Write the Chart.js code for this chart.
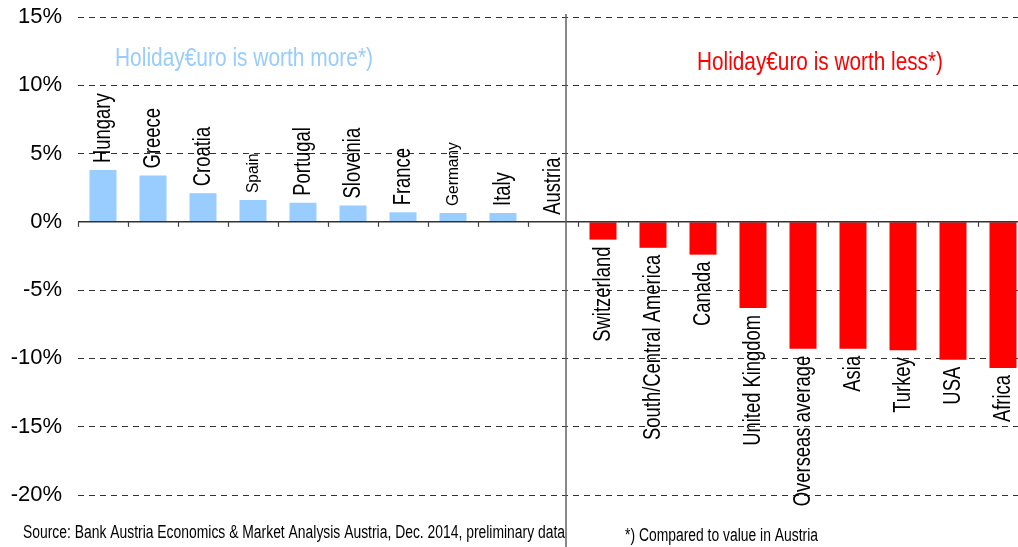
<!DOCTYPE html>
<html>
<head>
<meta charset="utf-8">
<script src="https://cdn.jsdelivr.net/npm/chart.js@4.4.1/dist/chart.umd.min.js"></script>
<style>
  html, body { margin: 0; padding: 0; background: #fff; overflow: hidden; }
  #wrap { width: 1028px; height: 547px; }
</style>
</head>
<body>
<div id="wrap"><canvas id="chart" width="1028" height="547"></canvas></div>
<script>
// data (% change of the Holiday Euro vs Austria)
const countries = ["Hungary", "Greece", "Croatia", "Spain", "Portugal", "Slovenia", "France", "Germany", "Italy", "Austria",
  "Switzerland", "South/Central America", "Canada", "United Kingdom", "Overseas average", "Asia", "Turkey", "USA", "Africa"];
const changes = [3.8, 3.4, 2.1, 1.6, 1.4, 1.2, 0.7, 0.65, 0.65, 0,
  -1.3, -1.9, -2.4, -6.3, -9.3, -9.3, -9.4, -10.1, -10.7];
const yMin = -20;
const yMax = 15;
const yStep = 5;
const smallLabels = ["Spain", "Germany"];

const titleMore = "Holiday€uro is worth more*)";
const titleLess = "Holiday€uro is worth less*)";
const sourceNote = "Source: Bank Austria Economics & Market Analysis Austria, Dec. 2014, preliminary data";
const starNote = "*) Compared to value in Austria";

const FONT = '"Liberation Sans", Arial, sans-serif';
const BLUE = "#99CCFF";
const RED = "#FF0000";

// draws text squeezed to a given width (the original uses a condensed look)
function squeezeText(ctx, text, x, y, size, color, width) {
  ctx.save();
  ctx.font = size + "px " + FONT;
  ctx.fillStyle = color;
  ctx.textBaseline = "alphabetic";
  ctx.textAlign = "left";
  const w = ctx.measureText(text).width;
  ctx.translate(x, y);
  ctx.scale(width / w, 1);
  ctx.fillText(text, 0, 0);
  ctx.restore();
}

const extras = {
  id: "extras",
  afterDatasetsDraw(chart) {
    const ctx = chart.ctx;
    const xs = chart.scales.x;
    const ys = chart.scales.y;
    const area = chart.chartArea;
    const zero = ys.getPixelForValue(0);
    const half = (xs.getPixelForValue(1) - xs.getPixelForValue(0)) / 2;

    // zero line with tick marks at category borders
    ctx.save();
    ctx.strokeStyle = "#333";
    ctx.lineWidth = 1.5;
    ctx.beginPath();
    ctx.moveTo(area.left, zero);
    ctx.lineTo(area.right, zero);
    ctx.stroke();
    ctx.lineWidth = 1.2;
    ctx.strokeStyle = "#444";
    for (let i = 0; i <= countries.length; i++) {
      const tx = Math.round(xs.getPixelForValue(i) - half) + 0.5;
      ctx.beginPath();
      ctx.moveTo(tx, zero);
      ctx.lineTo(tx, zero + 5);
      ctx.stroke();
    }

    // separator between the two groups
    const sepX = xs.getPixelForValue(9) + 0.26 * half * 2;
    ctx.strokeStyle = "#606060";
    ctx.lineWidth = 1.5;
    ctx.beginPath();
    ctx.moveTo(sepX, area.top - 3);
    ctx.lineTo(sepX, chart.height);
    ctx.stroke();
    ctx.restore();

    // rotated country labels next to the bars
    const meta = chart.getDatasetMeta(0);
    meta.data.forEach((bar, i) => {
      const small = smallLabels.includes(countries[i]);
      const size = small ? 16 : 23;
      const squeeze = small ? 0.97 : 0.8;
      const neg = changes[i] < 0;
      ctx.save();
      ctx.font = size + "px " + FONT;
      ctx.fillStyle = "#000";
      ctx.textBaseline = "middle";
      ctx.textAlign = neg ? "right" : "left";
      ctx.translate(bar.x + 1, neg ? bar.y + 7 : bar.y - 7);
      ctx.rotate(-Math.PI / 2);
      ctx.scale(squeeze, 1);
      ctx.fillText(countries[i], 0, 0);
      ctx.restore();
    });

    // group titles and notes
    squeezeText(ctx, titleMore, 115, 66, 25, BLUE, 258);
    squeezeText(ctx, titleLess, 697, 70, 25, RED, 246);
    squeezeText(ctx, sourceNote, 23, 538, 18, "#000", 542);
    squeezeText(ctx, starNote, 625, 541, 18, "#000", 193);
  }
};

new Chart(document.getElementById("chart"), {
  type: "bar",
  data: {
    labels: countries,
    datasets: [{
      data: changes,
      backgroundColor: changes.map(v => v < 0 ? RED : BLUE),
      borderWidth: 0,
      barPercentage: 0.54,
      categoryPercentage: 1
    }]
  },
  options: {
    responsive: false,
    animation: false,
    devicePixelRatio: 1,
    layout: { padding: { top: 17, bottom: 52, left: 0, right: 0 } },
    plugins: {
      legend: { display: false },
      tooltip: { enabled: false }
    },
    scales: {
      x: { display: false },
      y: {
        min: yMin,
        max: yMax,
        afterFit: s => {
          s.width = 78;
          s.paddingTop = 0;
          s.paddingBottom = 0;
        },
        ticks: {
          stepSize: yStep,
          padding: 16,
          color: "#000",
          font: { family: FONT, size: 22 },
          callback: v => v + "%"
        },
        grid: {
          drawTicks: false,
          color: c => c.tick && c.tick.value === 0 ? "rgba(0,0,0,0)" : "#333",
          lineWidth: 1
        },
        border: { display: false, dash: [6, 5] }
      }
    }
  },
  plugins: [extras]
});
</script>
</body>
</html>
